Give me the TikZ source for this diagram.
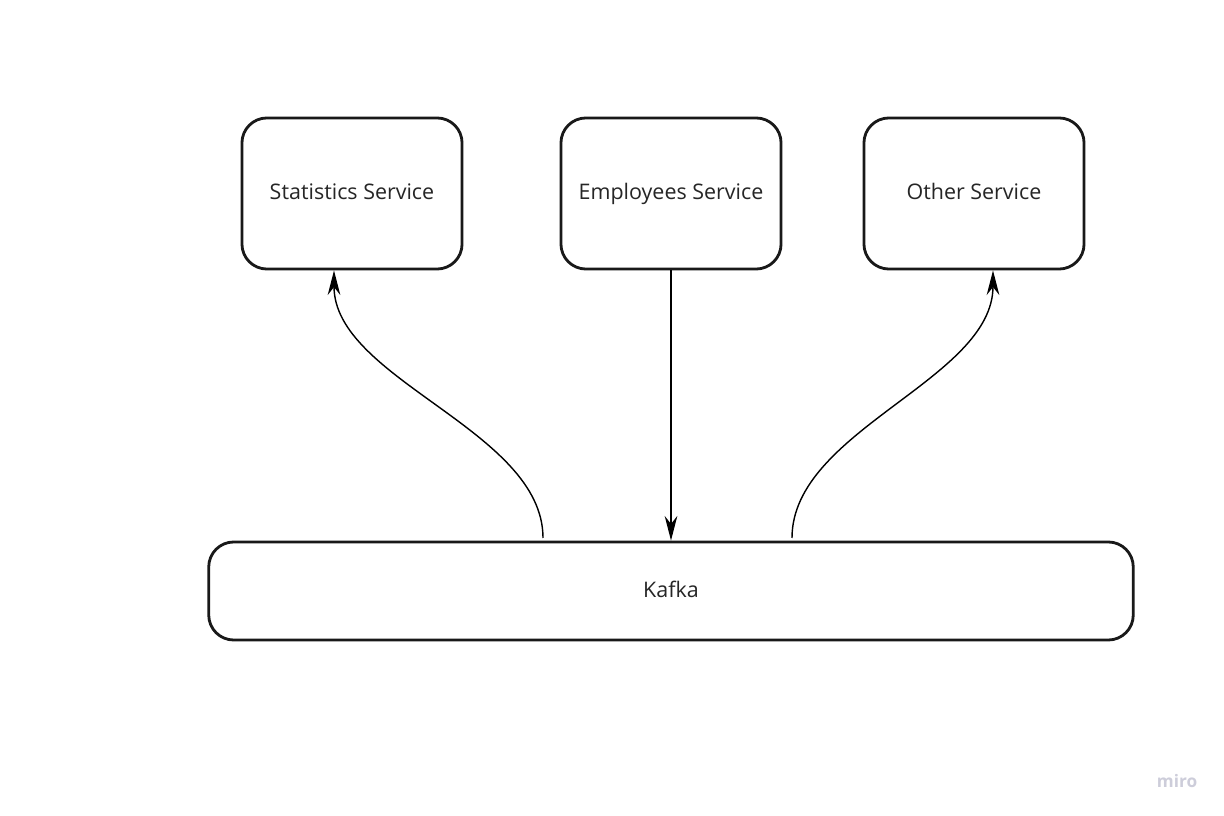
\documentclass[tikz,border=0pt]{standalone}
\usepackage{fontspec}
\setmainfont{Open Sans}
\usetikzlibrary{arrows.meta}
\definecolor{mirogray}{RGB}{205,205,218}
\tikzset{
	service/.style={draw=black!90, line width=0.8pt, rounded corners=0.25cm, minimum width=2.2cm, minimum height=1.51cm, inner sep=0pt, text height=0.95ex, text depth=0.3ex, font=\fontsize{6.1}{7.5}\selectfont, text=black!85},
	flow/.style={draw=black, line width=0.4pt, -{Stealth[length=7pt,width=3.6pt]}}
}

\begin{document}
\begin{tikzpicture}[x=0.01cm,y=-0.01cm]
				%%%%% START %%%%%
				\def\ytop{193.5}
				\def\ykafka{591}
				\useasboundingbox[fill=white] (0,0) rectangle (1224,816);
				
				\node[service] (stats) at (352,\ytop) {Statistics Service};
				\node[service] (empl) at (671,\ytop) {Employees Service};
				\node[service] (other) at (974,\ytop) {Other Service};
				\node[service, minimum width=9.24cm, minimum height=0.98cm] (kafka) at (671,\ykafka) {Kafka};
				
				\coordinate (kstats) at (543,538);
				\coordinate (kother) at (792,538);
				
				\draw[flow] (kstats) .. controls (543,430) and (334,380) .. (stats.south -| 334,0);
				\draw[flow] (empl.south) -- (kafka.north);
				\draw[flow] (kother) .. controls (792,430) and (993,380) .. (other.south -| 993,0);
				
				\node[font=\fontsize{4.9}{6}\selectfont\bfseries, text=mirogray] (miro) at (1177,781) {miro};
				%%%%% END %%%%%
\end{tikzpicture}
\end{document}
